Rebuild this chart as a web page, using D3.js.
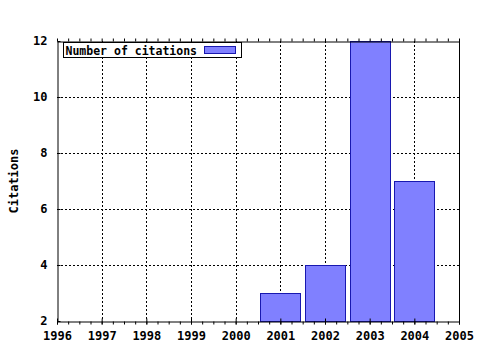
<!DOCTYPE html>
<html>
<head>
<meta charset="utf-8">
<script src="https://cdn.jsdelivr.net/npm/d3@7"></script>
<style>
  body { margin: 0; background: #fff; }
  text { font-family: "DejaVu Sans Mono", monospace; font-weight: bold; fill: #000; }
</style>
</head>
<body>
<svg id="chart" width="480" height="350"></svg>
<script>
// Données
const years = [2001, 2002, 2003, 2004];
const citations = [3, 4, 12, 7];
const xTicks = [1996, 1997, 1998, 1999, 2000, 2001, 2002, 2003, 2004, 2005];
const yTicks = [2, 4, 6, 8, 10, 12];

const margin = { top: 41, right: 21, bottom: 29, left: 57 };
const width = 480, height = 350;

const svg = d3.select("#chart");
const x = d3.scaleLinear().domain([1996, 2005]).range([margin.left, width - margin.right]);
const y = d3.scaleLinear().domain([2, 12]).range([height - margin.bottom, margin.top]);

// Grille pointillée
svg.append("g")
    .selectAll("line")
    .data(xTicks.slice(1, -1))
    .enter().append("line")
    .attr("x1", d => Math.round(x(d)) + 0.5)
    .attr("x2", d => Math.round(x(d)) + 0.5)
    .attr("y1", y(12))
    .attr("y2", y(2))
    .attr("stroke", "#000")
    .attr("stroke-dasharray", "2,2");

svg.append("g")
    .selectAll("line")
    .data(yTicks.slice(1, -1))
    .enter().append("line")
    .attr("x1", x(1996))
    .attr("x2", x(2005))
    .attr("y1", d => Math.round(y(d)) + 0.5)
    .attr("y2", d => Math.round(y(d)) + 0.5)
    .attr("stroke", "#000")
    .attr("stroke-dasharray", "2,2");

// Barres
const barW = (x(1997) - x(1996)) * 0.9;
svg.append("g")
    .selectAll("rect")
    .data(years)
    .enter().append("rect")
    .attr("x", d => Math.round(x(d) - barW / 2) + 0.5)
    .attr("y", (d, i) => Math.round(y(citations[i])) + 0.5)
    .attr("width", Math.round(barW))
    .attr("height", (d, i) => Math.round(y(2)) - Math.round(y(citations[i])))
    .attr("fill", "#8080ff")
    .attr("stroke", "#1818b0")
    .attr("stroke-width", 1);

// Axes
const minor = d3.range(1996, 2005.001, 0.25);
const axisB = svg.append("g").attr("transform", `translate(0,${Math.round(y(2)) + 0.5})`);
axisB.call(d3.axisBottom(x).tickValues(minor).tickSize(3).tickFormat(""));
axisB.call(g => g.select(".domain").remove());
axisB.append("g").call(d3.axisBottom(x).tickValues(xTicks).tickSizeInner(3).tickSizeOuter(0).tickFormat(d3.format("d")).tickPadding(7))
    .call(g => g.selectAll("text").attr("font-size", 12).attr("font-family", null))
    .call(g => g.selectAll(".tick line").attr("y1", -3));

const axisT = svg.append("g").attr("transform", `translate(0,${Math.round(y(12)) + 0.5})`);
axisT.call(d3.axisTop(x).tickValues(minor).tickSize(3).tickFormat("").tickSizeOuter(0));

const axisL = svg.append("g").attr("transform", `translate(${Math.round(x(1996)) + 0.5},0)`);
axisL.call(d3.axisLeft(y).tickValues(yTicks).tickSizeInner(4).tickSizeOuter(0).tickPadding(6).tickFormat(d3.format("d")))
    .call(g => g.selectAll("text").attr("font-size", 12).attr("font-family", null))
    .call(g => g.selectAll(".tick line").attr("x2", 3));

svg.append("line")
    .attr("x1", Math.round(x(2005)) + 0.5).attr("x2", Math.round(x(2005)) + 0.5)
    .attr("y1", y(12)).attr("y2", y(2))
    .attr("stroke", "#000");

svg.selectAll(".domain, .tick line").attr("stroke", "#000");

// Titre de l'axe Y
svg.append("text")
    .attr("transform", `translate(18,${(y(2) + y(12)) / 2}) rotate(-90)`)
    .attr("text-anchor", "middle")
    .attr("font-size", 12)
    .text("Citations");

// Légende
const legend = svg.append("g").attr("transform", "translate(63.5,42.5)");
legend.append("rect")
    .attr("width", 178).attr("height", 15)
    .attr("fill", "#fff").attr("stroke", "#000");
legend.append("text")
    .attr("x", 2).attr("y", 12)
    .attr("font-size", 11.5)
    .text("Number of citations");
legend.append("rect")
    .attr("x", 141).attr("y", 4)
    .attr("width", 31).attr("height", 7)
    .attr("fill", "#8080ff").attr("stroke", "#1818b0");
</script>
</body>
</html>
